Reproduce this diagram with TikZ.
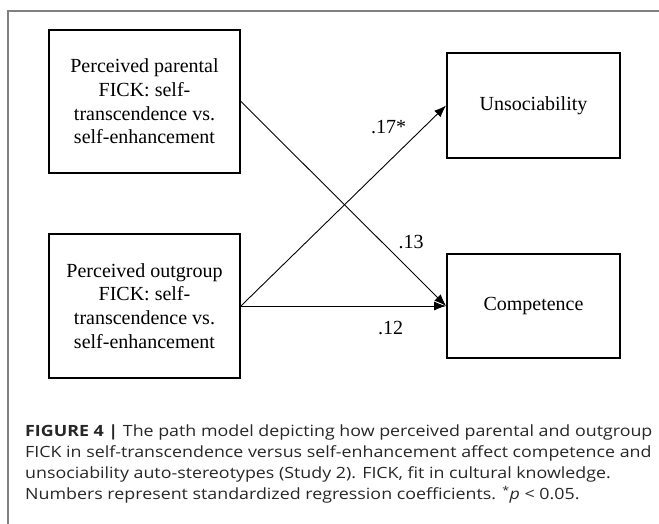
\documentclass[tikz,border=0pt]{standalone}
\usepackage{fontspec}
\setmainfont{Liberation Serif}
\newfontfamily\capfont[FakeStretch=1.15]{Open Sans}
\usetikzlibrary{arrows.meta}

\tikzset{
  varbox/.style={draw, line width=1.8pt, align=center, font=\fontsize{20}{23.7}\selectfont},
  coef/.style={font=\fontsize{20}{24}\selectfont, inner sep=2pt},
  path/.style={->, line width=0.9pt},
}

\begin{document}
\begin{tikzpicture}[x=1pt,y=-1pt,>={Latex[length=12pt,width=9pt]}]
  \useasboundingbox (0,0) rectangle (659,524);
  \draw[black!50, line width=1.5pt] (8,524) -- (8,11) -- (659,11);

  % predictors
  \node[varbox, minimum width=191pt, minimum height=143pt] (parental) at (144.5,101.5)
    {Perceived parental\\FICK: self-\\transcendence vs.\\self-enhancement};
  \node[varbox, minimum width=191pt, minimum height=144pt] (outgroup) at (144.5,306)
    {Perceived outgroup\\FICK: self-\\transcendence vs.\\self-enhancement};

  % outcomes
  \node[varbox, minimum width=173pt, minimum height=105pt] (unsoc) at (533.5,105.5) {Unsociability};
  \node[varbox, minimum width=173pt, minimum height=104pt] (compet) at (533.5,306) {Competence};

  \draw[path] (parental.east) -- node[coef, pos=0.83, above=20pt] (c13) {.13} (compet.west);
  \draw[path] (outgroup.east) -- node[coef, pos=0.72, above=25pt] (c17) {.17*} (unsoc.west);
  \draw[path] (outgroup.east) -- node[coef, pos=0.73, below=13pt] (c12) {.12} (compet.west);

  \node[anchor=north west, align=left, inner sep=0pt, text=black!85,
        font=\capfont\fontsize{15.5}{21}\selectfont] (caption) at (25,425)
    {\textbf{FIGURE 4 |} The path model depicting how perceived parental and outgroup\\
     FICK in self-transcendence versus self-enhancement affect competence and\\
     unsociability auto-stereotypes (Study 2). FICK, fit in cultural knowledge.\\
     Numbers represent standardized regression coefficients. \textsuperscript{*}\textit{p} < 0.05.};
\end{tikzpicture}
\end{document}
